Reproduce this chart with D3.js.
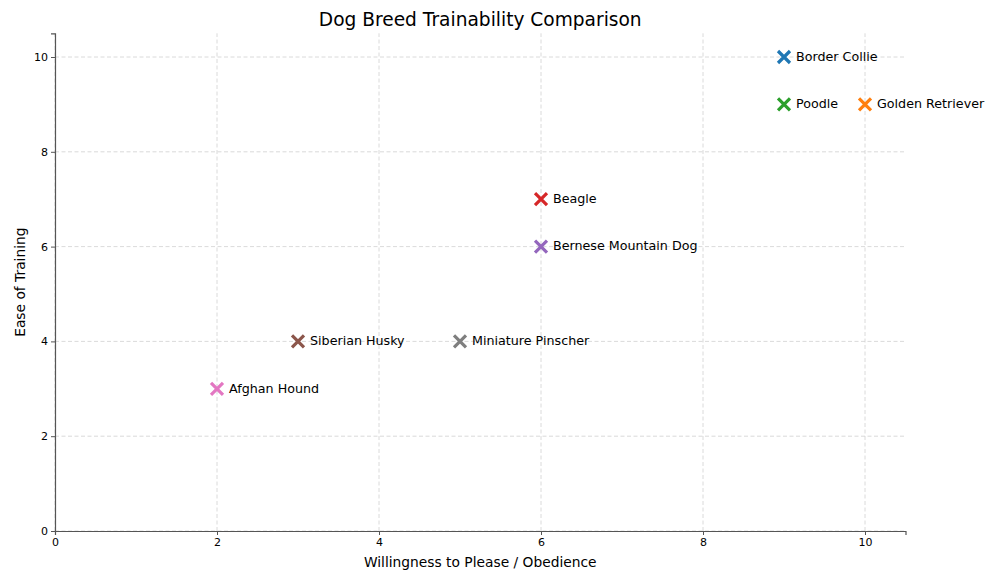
<!DOCTYPE html>
<html>
<head>
<meta charset="utf-8">
<script src="https://cdn.jsdelivr.net/npm/d3@7"></script>
<style>
body{margin:0;background:#fff;font-family:"DejaVu Sans",sans-serif}
.tick text{font-family:"DejaVu Sans",sans-serif}
</style>
</head>
<body>
<div id="w"></div>
<script>
var breeds = ["Border Collie","Golden Retriever","Poodle","Beagle","Bernese Mountain Dog","Siberian Husky","Afghan Hound","Miniature Pinscher"]
var obedience = [9,10,9,6,6,3,2,5]
var ease = [10,9,9,7,6,4,3,4]
var colors = ["#1f77b4","#ff7f0e","#2ca02c","#d62728","#9467bd","#8c564b","#e377c2","#7f7f7f"]
var ticks = [0,2,4,6,8,10]

var W = 1000, H = 583
var m = {l:55, r:94.5, t:33.3, b:52}

var svg = d3.select("#w").append("svg")
  .attr("width", W).attr("height", H)

var x = d3.scaleLinear().domain([0,10.5]).range([m.l, W-m.r])
var y = d3.scaleLinear().domain([0,10.5]).range([H-m.b, m.t])

// grid
svg.append("g").selectAll("line").data(ticks).enter().append("line")
  .attr("x1", d=>x(d)).attr("x2", d=>x(d))
  .attr("y1", y(0)).attr("y2", y(10.5))
  .attr("stroke","#d0d0d0").attr("stroke-width",0.8).attr("stroke-dasharray","4,2.5")
svg.append("g").selectAll("line").data(ticks).enter().append("line")
  .attr("y1", d=>y(d)).attr("y2", d=>y(d))
  .attr("x1", x(0)).attr("x2", x(10.5))
  .attr("stroke","#d0d0d0").attr("stroke-width",0.8).attr("stroke-dasharray","4,2.5")

var gx = svg.append("g").attr("transform","translate(0,"+y(0)+")")
  .call(d3.axisBottom(x).tickValues(ticks).tickSize(4).tickPadding(3))
var gy = svg.append("g").attr("transform","translate("+x(0)+",0)")
  .call(d3.axisLeft(y).tickValues(ticks).tickSize(4).tickPadding(3))
;[gx,gy].forEach(g=>{
  g.select(".domain").attr("stroke","#555").attr("stroke-width",1.2)
  g.selectAll(".tick line").attr("stroke","#555")
  g.selectAll(".tick text").attr("font-size",11).attr("fill","#000")
})

// markers
var s = 6
var pts = svg.append("g").selectAll("g").data(breeds).enter().append("g")
  .attr("transform",(d,i)=>"translate("+x(obedience[i])+","+y(ease[i])+")")
pts.append("path")
  .attr("d","M"+(-s)+","+(-s)+"L"+s+","+s+"M"+(-s)+","+s+"L"+s+","+(-s))
  .attr("stroke",(d,i)=>colors[i]).attr("stroke-width",3.2).attr("fill","none")
pts.append("text").text(d=>d)
  .attr("x",12).attr("dy","0.3em")
  .attr("font-size",12.7).attr("fill","#000")

svg.append("text").text("Dog Breed Trainability Comparison")
  .attr("x",(x(0)+x(10.5))/2).attr("y",26).attr("text-anchor","middle")
  .attr("font-size",18.6)
svg.append("text").text("Willingness to Please / Obedience")
  .attr("x",(x(0)+x(10.5))/2).attr("y",567).attr("text-anchor","middle")
  .attr("font-size",13.8)
svg.append("text").text("Ease of Training")
  .attr("transform","translate(25,"+((y(0)+y(10.5))/2)+") rotate(-90)")
  .attr("text-anchor","middle").attr("font-size",13.8)
</script>
</body>
</html>
